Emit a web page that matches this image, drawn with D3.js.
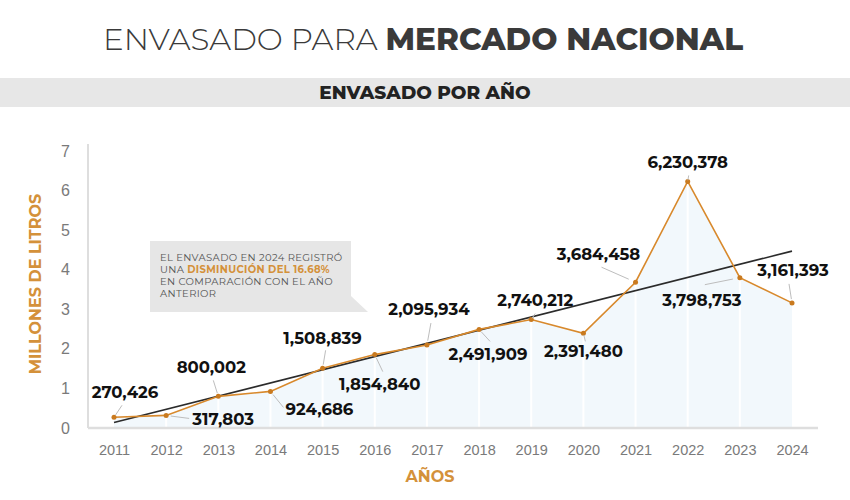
<!DOCTYPE html>
<html>
<head>
<meta charset="utf-8">
<script src="https://cdn.jsdelivr.net/npm/d3@7"></script>
<style>
  body { margin: 0; background: #fff; }
  svg { font-family: Montserrat, Inter, sans-serif; }
  .yearTick text, .valueTick text { fill: #7a7a7a; font-size: 14px; }
  .dataLabel { font-weight: 700; font-size: 16.5px; fill: #111; text-anchor: middle; }
  .axisTitle { font-weight: 700; font-size: 16px; fill: #d4913a; }
</style>
</head>
<body>
<div id="chart"></div>
<script>
var years = ["2011", "2012", "2013", "2014", "2015", "2016", "2017", "2018", "2019", "2020", "2021", "2022", "2023", "2024"];
var litros = [270426, 317803, 800002, 924686, 1508839, 1854840, 2095934, 2491909, 2740212, 2391480, 3684458, 6230378, 3798753, 3161393];
var yTicks = [0, 1, 2, 3, 4, 5, 6, 7];
var noteLines = [
    [{t: "EL ENVASADO EN 2024 REGISTRÓ", b: false}],
    [{t: "UNA ", b: false}, {t: "DISMINUCIÓN DEL 16.68%", b: true}],
    [{t: "EN COMPARACIÓN CON EL AÑO", b: false}],
    [{t: "ANTERIOR", b: false}]
];

// label placement: [label dx, label dy, leader end dx, leader end dy] relative to the point
var labelPlacement = [
    [11, -19, 8, -12], [57, 10, 23, 3], [-7, -23, -5, -16], [49, 24, 13, 16],
    [0, -24, 3, -18], [5, 35, 8, 17], [2, -30, 4, -22], [9, 31, 11, 12],
    [4, -14, 4, -6], [0, 24, 2, 8], [-37, -22, -34, -15], [0, -13, 1, -6],
    [-38, 28, -35, 7], [1, -27, -3, -19]
];

var data = years.map(function(y, i) { return {year: y, value: litros[i] / 1e6, raw: litros[i]}; });

var width = 850, height = 500;
var svg = d3.select("#chart").append("svg").attr("width", width).attr("height", height);

var xScale = d3.scalePoint().domain(years).range([114, 792]);
var yScale = d3.scaleLinear().domain([0, 7]).range([428, 151]);

// titles
var title = svg.append("text")
    .attr("x", 423).attr("y", 50)
    .attr("text-anchor", "middle")
    .style("font-size", "31px").style("fill", "#3a3a3a");
title.append("tspan").style("font-weight", 300).text("ENVASADO PARA ");
title.append("tspan").style("font-weight", 800).text("MERCADO NACIONAL");

svg.append("rect").attr("x", 0).attr("y", 78).attr("width", width).attr("height", 29).attr("fill", "#e7e7e7");
svg.append("text")
    .attr("x", 425).attr("y", 99)
    .attr("text-anchor", "middle")
    .style("font-size", "18.5px").style("font-weight", 800).style("fill", "#222")
    .text("ENVASADO POR AÑO");

// area under the line
var area = d3.area()
    .x(function(d) { return xScale(d.year); })
    .y0(yScale(0))
    .y1(function(d) { return yScale(d.value); });

svg.append("path").datum(data).attr("d", area).attr("fill", "#f2f8fc");

svg.selectAll(".bandLine")
    .data(years.slice(1, -1))
    .enter().append("line")
    .attr("class", "bandLine")
    .attr("x1", function(d) { return xScale(d); }).attr("x2", function(d) { return xScale(d); })
    .attr("y1", yScale(0)).attr("y2", yScale(7))
    .attr("stroke", "#fff").attr("stroke-width", 2);

// axes
svg.append("line").attr("x1", 88).attr("x2", 88).attr("y1", 144).attr("y2", yScale(0))
    .attr("stroke", "#dedede").attr("stroke-width", 2);
svg.append("line").attr("x1", 88).attr("x2", 818).attr("y1", yScale(0)).attr("y2", yScale(0))
    .attr("stroke", "#dedede").attr("stroke-width", 2.5);

var yAxis = svg.append("g").attr("class", "valueTick")
    .attr("transform", "translate(88,0)")
    .call(d3.axisLeft(yScale).tickValues(yTicks).tickFormat(d3.format("d")).tickSize(0).tickPadding(18));
yAxis.select(".domain").remove();
yAxis.selectAll("text").style("font-size", "16px").style("font-weight", 300).style("font-family", null);

var xAxis = svg.append("g").attr("class", "yearTick")
    .attr("transform", "translate(0," + yScale(0) + ")")
    .call(d3.axisBottom(xScale).tickSize(0).tickPadding(17));
xAxis.select(".domain").remove();
xAxis.selectAll("text").style("font-size", "14.5px").style("font-family", null);

svg.append("text").attr("class", "axisTitle")
    .attr("transform", "translate(41,284) rotate(-90)")
    .attr("text-anchor", "middle")
    .text("MILLONES DE LITROS");

svg.append("text").attr("class", "axisTitle")
    .attr("x", 430).attr("y", 482)
    .attr("text-anchor", "middle")
    .text("AÑOS");

// trend line (least squares)
var n = data.length;
var meanX = d3.mean(data, function(d, i) { return i; });
var meanY = d3.mean(data, function(d) { return d.value; });
var slope = d3.sum(data, function(d, i) { return (i - meanX) * (d.value - meanY); }) /
    d3.sum(data, function(d, i) { return (i - meanX) * (i - meanX); });
var intercept = meanY - slope * meanX;

svg.append("line")
    .attr("x1", xScale(years[0])).attr("y1", yScale(intercept))
    .attr("x2", xScale(years[n - 1])).attr("y2", yScale(intercept + slope * (n - 1)))
    .attr("stroke", "#2b2b2b").attr("stroke-width", 1.6);

// data line
var line = d3.line()
    .x(function(d) { return xScale(d.year); })
    .y(function(d) { return yScale(d.value); });

svg.append("path").datum(data).attr("d", line)
    .attr("fill", "none").attr("stroke", "#d8892c").attr("stroke-width", 1.6);

svg.selectAll(".dot")
    .data(data)
    .enter().append("circle")
    .attr("class", "dot")
    .attr("cx", function(d) { return xScale(d.year); })
    .attr("cy", function(d) { return yScale(d.value); })
    .attr("r", 2.5)
    .attr("fill", "#c97a1f");

// leaders and labels
svg.selectAll(".leader")
    .data(data)
    .enter().append("line")
    .attr("class", "leader")
    .attr("x1", function(d, i) { var p = labelPlacement[i]; return xScale(d.year) + p[2] * 0.2; })
    .attr("y1", function(d, i) { var p = labelPlacement[i]; return yScale(d.value) + p[3] * 0.2; })
    .attr("x2", function(d, i) { return xScale(d.year) + labelPlacement[i][2]; })
    .attr("y2", function(d, i) { return yScale(d.value) + labelPlacement[i][3]; })
    .attr("stroke", "#bdbdbd").attr("stroke-width", 1);

svg.selectAll(".dataLabel")
    .data(data)
    .enter().append("text")
    .attr("class", "dataLabel")
    .attr("x", function(d, i) { return xScale(d.year) + labelPlacement[i][0]; })
    .attr("y", function(d, i) { return yScale(d.value) + labelPlacement[i][1]; })
    .text(function(d) { return d3.format(",")(d.raw); });

// note box
var note = svg.append("g");
note.append("path")
    .attr("d", "M150,241 H351 V296 L368,312 H150 Z")
    .attr("fill", "#e6e6e6");

var noteText = note.selectAll(".noteLine")
    .data(noteLines)
    .enter().append("text")
    .attr("class", "noteLine")
    .attr("x", 160)
    .attr("y", function(d, i) { return 261 + i * 12; })
    .style("font-size", "10px").style("letter-spacing", "0.35px").style("fill", "#555");

noteText.selectAll("tspan")
    .data(function(d) { return d; })
    .enter().append("tspan")
    .style("font-weight", function(d) { return d.b ? 700 : 400; })
    .style("fill", function(d) { return d.b ? "#d4913a" : null; })
    .text(function(d) { return d.t; });
</script>
</body>
</html>
